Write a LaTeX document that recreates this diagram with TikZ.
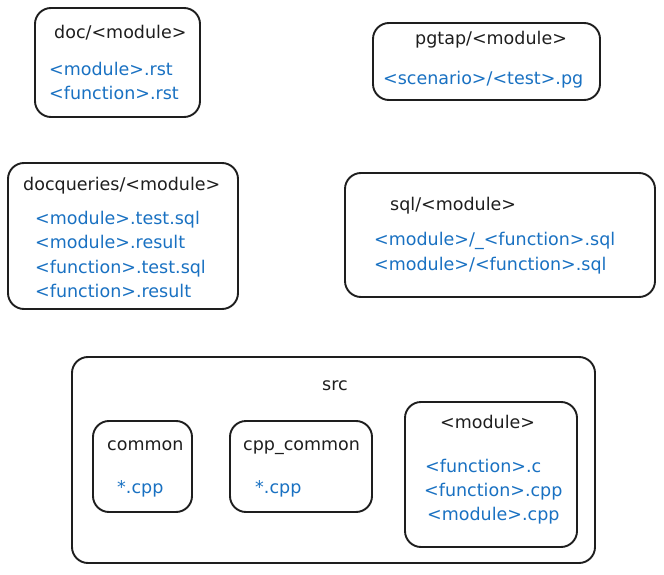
\documentclass[tikz,border=0pt]{standalone}
\usepackage{fontspec}
\setmainfont{DejaVu Sans}
\usepackage{xcolor}
\usepackage{tikz}
\usetikzlibrary{positioning}
\definecolor{inkdark}{RGB}{30,30,30}
\definecolor{fileblue}{RGB}{25,113,194}

\begin{document}
\begin{tikzpicture}[x=1pt, y=-1pt,
 folder/.style={draw=inkdark, line width=1.9pt, rounded corners=16pt,
          fill=white, inner sep=0pt},
 dirname/.style={font=\fontsize{17.5}{21}\selectfont, text=inkdark,
          anchor=base west, inner sep=0pt},
 filename/.style={font=\fontsize{17.5}{21}\selectfont, text=fileblue,
          anchor=base west, inner sep=0pt}
]
\useasboundingbox (0,0) rectangle (664,575);
% Directory boxes of the layout, one per folder.
\node[folder, minimum width=165pt, minimum height=109pt] (doc) at (117.5, 62.5) {};
\node[folder, minimum width=227pt, minimum height=77pt] (pgtap) at (486.5, 61.5) {};
\node[folder, minimum width=230pt, minimum height=146pt] (docqueries) at (123, 236) {};
\node[folder, minimum width=310pt, minimum height=124pt] (sql) at (500, 235) {};
\node[folder, minimum width=523pt, minimum height=206pt] (src) at (333.5, 460) {};
\node[folder, minimum width=99pt, minimum height=91pt] (common) at (142.5, 466.5) {};
\node[folder, minimum width=142pt, minimum height=91pt] (cppcommon) at (301, 466.5) {};
\node[folder, minimum width=172pt, minimum height=145pt] (module) at (491, 474.5) {};
% Folder names
\node[dirname] (docname) at (54, 39) {doc/<module>};
\node[dirname] (pgtapname) at (415, 45) {pgtap/<module>};
\node[dirname] (dqname) at (23, 190) {docqueries/<module>};
\node[dirname] (sqlname) at (390, 210) {sql/<module>};
\node[dirname] (srcname) at (322, 390) {src};
\node[dirname] (commonname) at (107, 450) {common};
\node[dirname] (cppname) at (243, 450) {cpp\_common};
\node[dirname] (modname) at (440, 428) {<module>};
% Files inside each folder
\node[filename] (docfa) at (49, 76) {<module>.rst};
\node[filename] (docfb) at (49, 100) {<function>.rst};
\node[filename] (pgtapfa) at (383, 85) {<scenario>/<test>.pg};
\node[filename] (dqfa) at (35, 224) {<module>.test.sql};
\node[filename] (dqfb) at (35, 248) {<module>.result};
\node[filename] (dqfc) at (35, 273) {<function>.test.sql};
\node[filename] (dqfd) at (35, 297) {<function>.result};
\node[filename] (sqlfa) at (374, 245) {<module>/\_<function>.sql};
\node[filename] (sqlfb) at (374, 270) {<module>/<function>.sql};
\node[filename] (commonfa) at (117, 493) {*.cpp};
\node[filename] (cppfa) at (255, 493) {*.cpp};
\node[filename] (modfa) at (425, 472) {<function>.c};
\node[filename] (modfb) at (424, 496) {<function>.cpp};
\node[filename] (modfc) at (427, 520) {<module>.cpp};
\end{tikzpicture}
\end{document}
